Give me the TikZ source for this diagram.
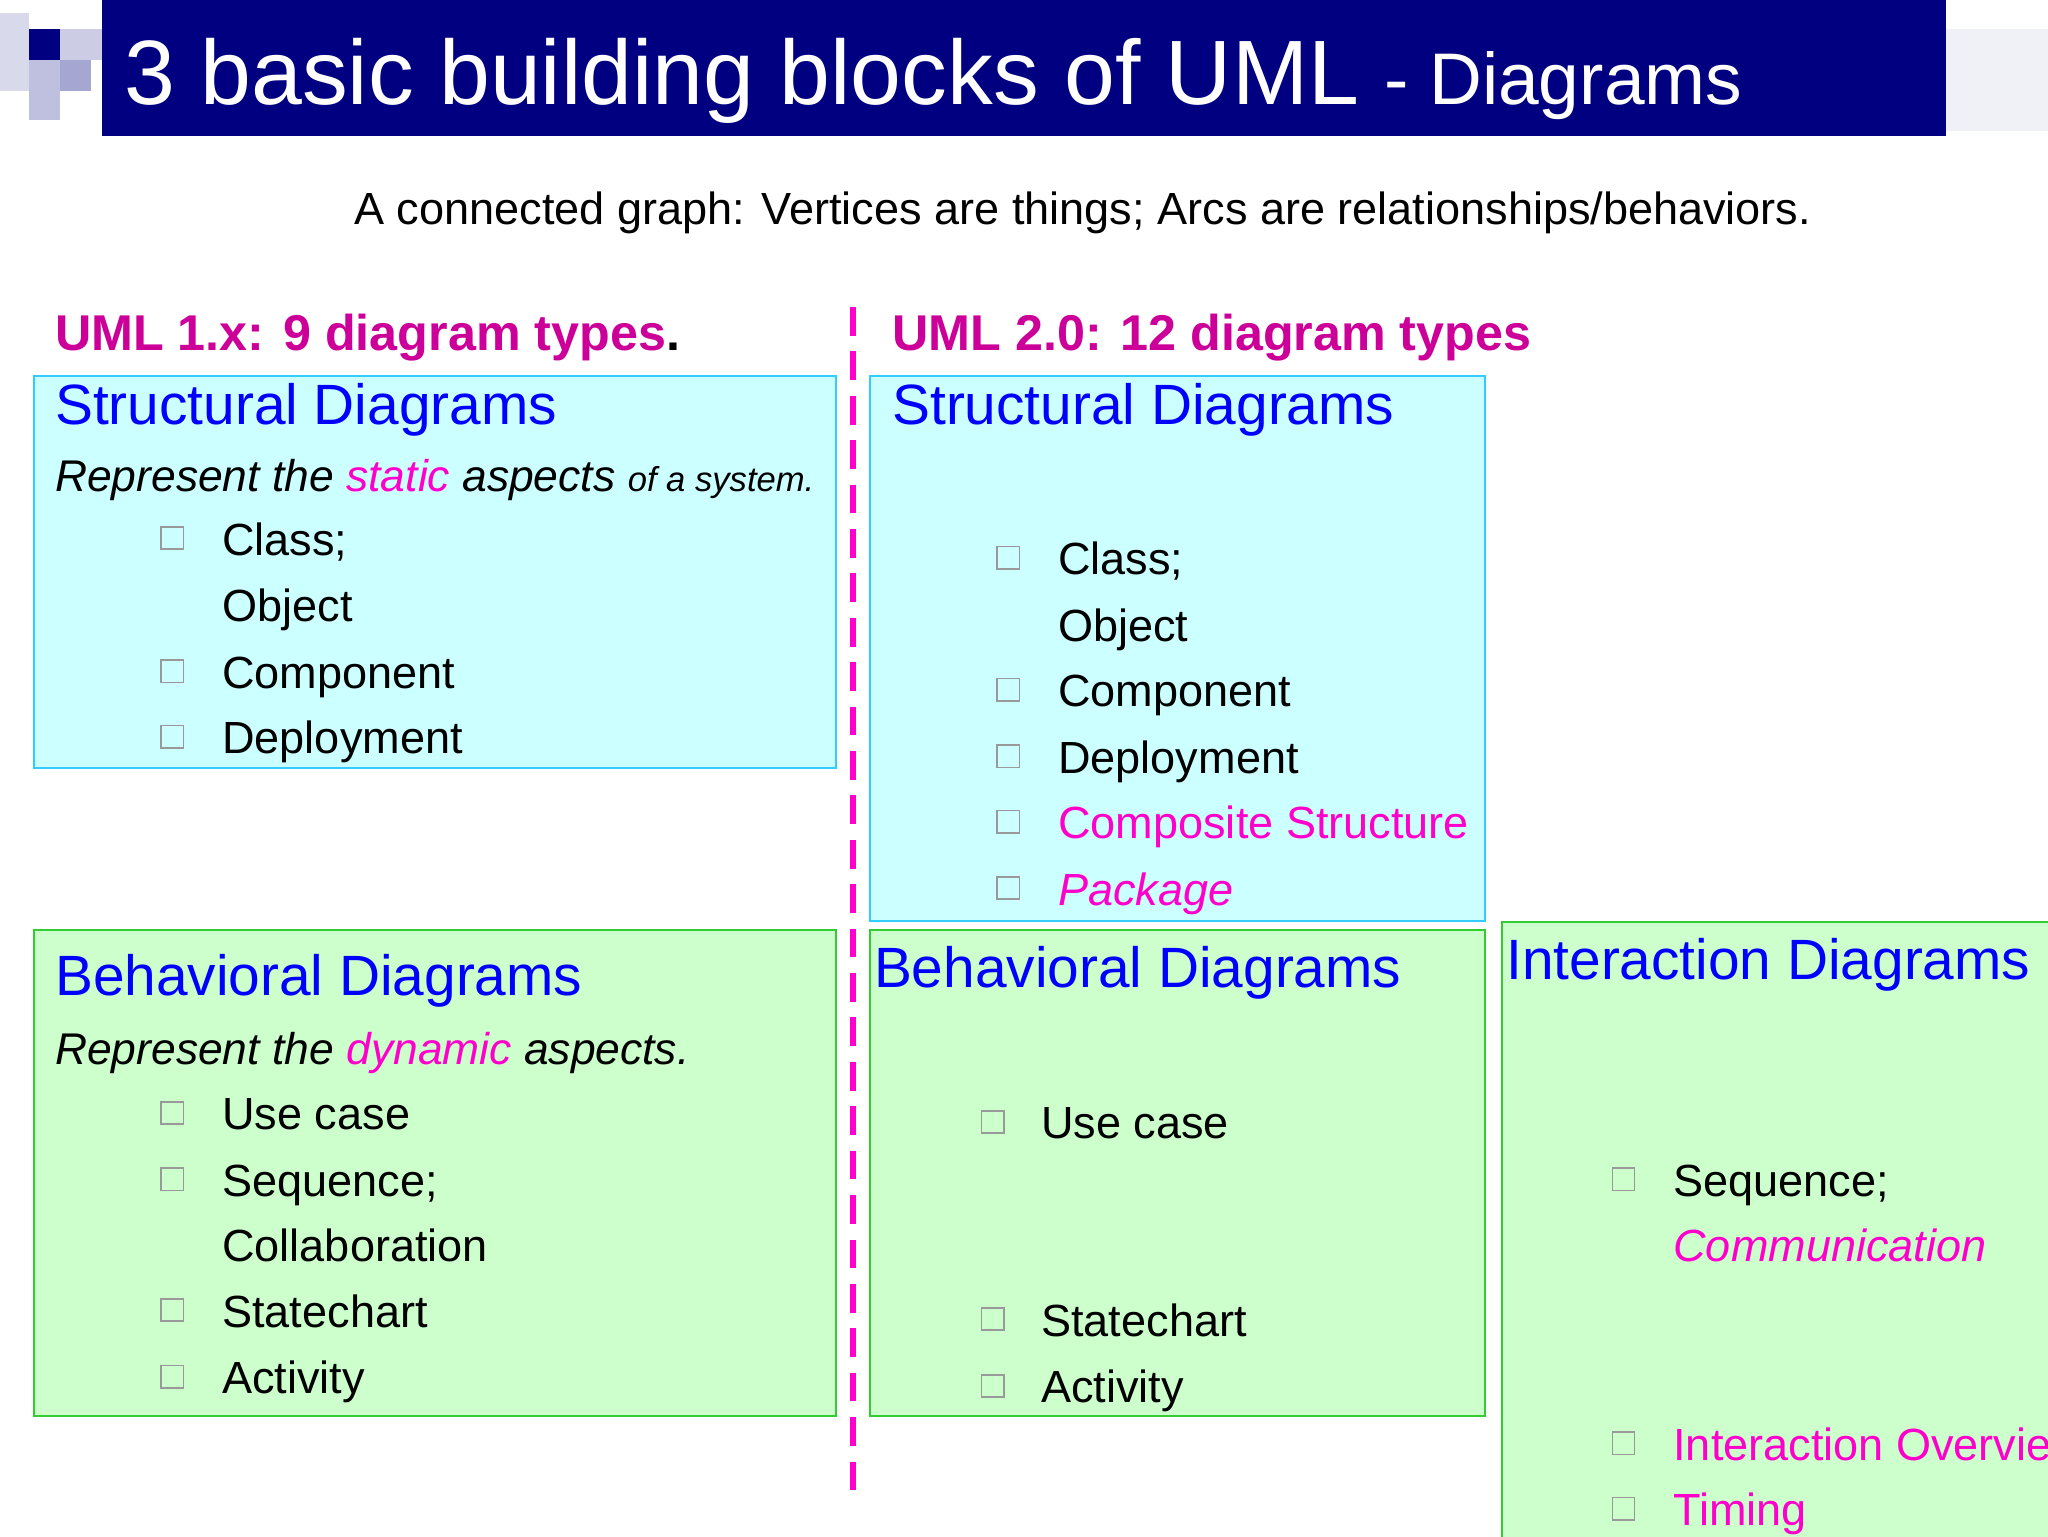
\documentclass[tikz,border=0pt]{standalone}
\usepackage{fontspec}
\setmainfont{Liberation Sans}
\definecolor{navy}{HTML}{000080}
\definecolor{mag}{HTML}{CC0099}
\definecolor{pink}{HTML}{FF00CC}
\definecolor{hblue}{HTML}{0000FF}
\definecolor{cyf}{HTML}{CCFFFF}
\definecolor{cyb}{HTML}{33CCFF}
\definecolor{grf}{HTML}{CCFFCC}
\definecolor{grb}{HTML}{33CC33}
\begin{document}
\begin{tikzpicture}[x=1pt,y=-1pt,
  txt/.style={anchor=base west,inner sep=0pt,font=\fontsize{34.5}{38}\selectfont},
  head/.style={anchor=base west,inner sep=0pt,text=hblue,font=\fontsize{43.5}{48}\selectfont},
  bul/.style={draw=gray!80,line width=1.3pt,minimum size=17pt,inner sep=0pt},
  sbox/.style={fill=cyf,draw=cyb,line width=1.3pt},
  bbox/.style={fill=grf,draw=grb,line width=1.3pt}]
\useasboundingbox (0,0) rectangle (1568,1176);
\clip (0,0) rectangle (1568,1176);
% title
\fill[navy] (78,0) rectangle (1490,104);
\fill[navy] (22,22) rectangle (46,46);
\fill[navy!35] (46,46) rectangle (70,70);
\fill[navy!15] (0,10) rectangle (22,70);
\fill[navy!20] (46,22) rectangle (78,46);
\fill[navy!25] (22,46) rectangle (46,92);
\fill[navy!6] (1490,22) rectangle (1568,100);
\node[txt,text=white,font=\fontsize{70}{76}\selectfont] (title) at (95,80) {3 basic building blocks of UML {\fontsize{56}{60}\selectfont - Diagrams}};
\node[txt,anchor=base,font=\fontsize{34.5}{38}\selectfont] (sub) at (829,172) {A connected graph: Vertices are things; Arcs are relationships/behaviors.};
\coordinate (d1) at (653,235); \coordinate (d2) at (653,1152);
\draw[pink,line width=5pt,dash pattern=on 22pt off 12pt] (d1) -- (d2);
\node[txt,text=mag,font=\bfseries\fontsize{38.5}{42}\selectfont] (u1) at (42,268) {UML 1.x: 9 diagram types\textcolor{black}{.}};
\node[txt,text=mag,font=\bfseries\fontsize{38.5}{42}\selectfont] (u2) at (683,268) {UML 2.0: 12 diagram types};
% boxes
\draw[sbox] (26,288) rectangle (640,588);
\draw[sbox] (666,288) rectangle (1137,705);
\draw[bbox] (26,712) rectangle (640,1084);
\draw[bbox] (666,712) rectangle (1137,1084);
\draw[bbox] (1150,706) rectangle (1580,1190);
% left structural
\node[head] (h1) at (42,325) {Structural Diagrams};
\node[txt,font=\itshape\fontsize{34}{38}\selectfont] (r1) at (42,376) {Represent the \textcolor{pink}{static} aspects {\fontsize{26.5}{30}\selectfont of a system.}};
\foreach \y/\t/\b in {425/Class;/1,476/Object/0,527/Component/1,577/Deployment/1}{
  \node[txt] at (170,\y) {\t};
  \ifnum\b=1 \node[bul] at (132,\y-13) {};\fi}
% right structural
\node[head] (h2) at (683,325) {Structural Diagrams};
\foreach \y/\t/\b in {440/Class;/1,491/Object/0,541/Component/1,592/Deployment/1}{
  \node[txt] at (810,\y) {\t};
  \ifnum\b=1 \node[bul] at (772,\y-13) {};\fi}
\node[txt,text=pink] at (810,642) {Composite Structure}; \node[bul] at (772,629) {};
\node[txt,text=pink,font=\itshape\fontsize{34.5}{38}\selectfont] at (810,693) {Package}; \node[bul] at (772,680) {};
% left behavioral
\node[head] (h3) at (42,762) {Behavioral Diagrams};
\node[txt,font=\itshape\fontsize{34}{38}\selectfont] (r2) at (42,815) {Represent the \textcolor{pink}{dynamic} aspects.};
\foreach \y/\t/\b in {865/Use case/1,916/Sequence;/1,966/Collaboration/0,1016/Statechart/1,1067/Activity/1}{
  \node[txt] at (170,\y) {\t};
  \ifnum\b=1 \node[bul] at (132,\y-13) {};\fi}
% right behavioral
\node[head] (h4) at (669,756) {Behavioral Diagrams};
\foreach \y/\t in {872/Use case,1023/Statechart,1074/Activity}{
  \node[txt] at (797,\y) {\t};
  \node[bul] at (760,\y-13) {};}
% interaction
\node[head] (h5) at (1153,750) {Interaction Diagrams};
\node[txt] at (1281,916) {Sequence;}; \node[bul] at (1243,903) {};
\node[txt,text=pink,font=\itshape\fontsize{34.5}{38}\selectfont] at (1281,966) {Communication};
\node[txt,text=pink] at (1281,1118) {Interaction Overview}; \node[bul] at (1243,1105) {};
\node[txt,text=pink] at (1281,1168) {Timing}; \node[bul] at (1243,1155) {};
\end{tikzpicture}
\end{document}
